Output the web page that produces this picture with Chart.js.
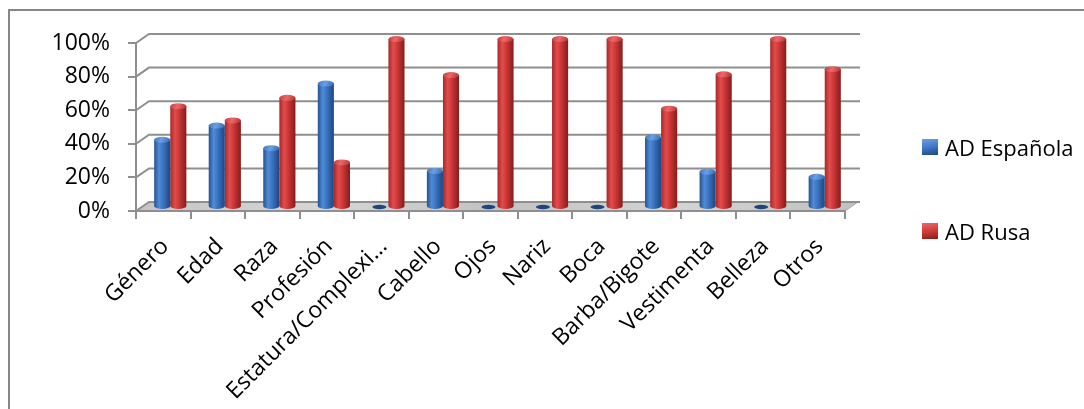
<!DOCTYPE html>
<html>
<head>
<meta charset="utf-8">
<script src="https://cdn.jsdelivr.net/npm/chart.js@4.4.1/dist/chart.umd.min.js"></script>
<style>
  html, body { margin: 0; padding: 0; background: #fff; overflow: hidden; }
  #wrap { position: relative; width: 1084px; height: 409px; }
  #frame { position: absolute; left: 8px; top: 9px; width: 1100px; height: 430px;
           border: 2px solid #878787; box-sizing: border-box; pointer-events: none; }
  canvas { position: absolute; left: 0; top: 0; }
  #legend { position: absolute; left: 922px; top: 0; font-family: 'Open Sans', sans-serif;
            font-size: 22px; color: #000; }
  #legend .item { position: absolute; left: 0; height: 30px; display: flex; align-items: center; white-space: nowrap; }
  #legend .sw { width: 16px; height: 16px; margin-right: 7px; flex: none; }
</style>
</head>
<body>
<div id="wrap">
  <div id="frame"></div>
  <canvas id="c" width="1084" height="409"></canvas>
  <div id="legend"></div>
</div>
<script>
// Categories and the share (%) of each analysed description
const categories = ['Género', 'Edad', 'Raza', 'Profesión', 'Estatura/Complexi…', 'Cabello', 'Ojos',
                    'Nariz', 'Boca', 'Barba/Bigote', 'Vestimenta', 'Belleza', 'Otros'];
const adEspanola = [40, 48.5, 35, 73.5, 0, 21.5, 0, 0, 0, 41.5, 21, 0, 18];
const adRusa     = [60, 51.5, 65, 26.5, 100, 78.5, 100, 100, 100, 58.5, 79, 100, 82];
const seriesNames = ['AD Española', 'AD Rusa'];
const yTicks = [0, 20, 40, 60, 80, 100];

// Styling
const X_FONT = { family: "'Open Sans', sans-serif", size: 23 };
const Y_FONT = { family: "'Open Sans', sans-serif", size: 23 };
const GRID = '#8f8f8f';
const CAT_PCT = 0.59;
const DEPTH = { x: 13, y: -9 };      // back wall offset
const BAR_SHIFT = { x: 7, y: -4 };   // bars sit half way into the depth
const SHADES = [
  ['#24528f', '#4f8bd8', '#3b74c2', '#1d467f'],   // blue cylinder
  ['#a82828', '#e24c4c', '#cc3737', '#861c1c']    // red cylinder
];
const CAPS = [['#3d73bd', '#6aa0e4', '#3566ab'], ['#c23a3a', '#ec6868', '#b33030']];

function cylinderGradient(ctx, ds, x, w) {
  const g = ctx.createLinearGradient(x - w / 2, 0, x + w / 2, 0);
  const s = SHADES[ds];
  g.addColorStop(0, s[0]);
  g.addColorStop(0.3, s[1]);
  g.addColorStop(0.55, s[2]);
  g.addColorStop(1, s[3]);
  return g;
}

function cylinderFill(context) {
  const chart = context.chart;
  const ds = context.datasetIndex;
  const xs = chart.scales && chart.scales.x;
  if (!xs || context.type !== 'data') return SHADES[ds][2];
  const cat = xs.width / categories.length;
  const group = cat * CAT_PCT;
  const bw = group / 2;
  const cx = xs.getPixelForValue(context.dataIndex) - group / 2 + bw * ds + bw / 2;
  if (!isFinite(cx) || !isFinite(bw) || bw <= 0) return SHADES[ds][2];
  return cylinderGradient(chart.ctx, ds, cx, bw);
}

// Floor, back wall grid and cylinder caps
const depthPlugin = {
  id: 'depth',
  beforeDraw(chart) {
    const { ctx, chartArea: a, scales: { y } } = chart;
    const y0 = y.getPixelForValue(0);
    ctx.save();
    // floor
    const fg = ctx.createLinearGradient(a.left, 0, a.right + DEPTH.x, 0);
    fg.addColorStop(0, '#c4c4c4');
    fg.addColorStop(0.25, '#d6d6d6');
    fg.addColorStop(0.5, '#c2c2c2');
    fg.addColorStop(0.75, '#d4d4d4');
    fg.addColorStop(1, '#c0c0c0');
    ctx.beginPath();
    ctx.moveTo(a.left, y0);
    ctx.lineTo(a.right, y0);
    ctx.lineTo(a.right + DEPTH.x, y0 + DEPTH.y);
    ctx.lineTo(a.left + DEPTH.x, y0 + DEPTH.y);
    ctx.closePath();
    ctx.fillStyle = fg;
    ctx.fill();
    ctx.strokeStyle = '#a8a8a8';
    ctx.lineWidth = 1;
    ctx.stroke();
    // back wall grid lines
    ctx.strokeStyle = GRID;
    ctx.lineWidth = 2;
    y.ticks.forEach(t => {
      const py = y.getPixelForValue(t.value);
      ctx.beginPath();
      ctx.moveTo(a.left, py);
      ctx.lineTo(a.left + DEPTH.x, py + DEPTH.y);
      ctx.lineTo(a.right + DEPTH.x + 2, py + DEPTH.y);
      ctx.stroke();
    });
    ctx.restore();
  },
  beforeDatasetsDraw(chart) {
    chart.ctx.save();
    chart.ctx.translate(BAR_SHIFT.x, BAR_SHIFT.y);
  },
  afterDatasetsDraw(chart) {
    const ctx = chart.ctx;
    chart.data.datasets.forEach((ds, di) => {
      const meta = chart.getDatasetMeta(di);
      meta.data.forEach((bar) => {
        const { x, y, base, width } = bar.getProps(['x', 'y', 'base', 'width'], true);
        if (![x, y, base, width].every(isFinite)) return;
        const rx = width / 2;
        const s = SHADES[di];
        if (Math.abs(base - y) < 0.5) {
          // empty value: a flat disc on the floor
          ctx.beginPath();
          ctx.ellipse(x - 1, base, rx - 1, 2.2, 0, 0, Math.PI * 2);
          ctx.fillStyle = s[3];
          ctx.fill();
          return;
        }
        // bottom rim
        ctx.beginPath();
        ctx.ellipse(x, base, rx, 3, 0, 0, Math.PI);
        ctx.fillStyle = cylinderGradient(ctx, di, x, width);
        ctx.fill();
        // top of the cylinder
        const c = CAPS[di];
        const cg = ctx.createLinearGradient(x - rx, y - 3, x + rx, y + 3);
        cg.addColorStop(0, c[0]); cg.addColorStop(0.45, c[1]); cg.addColorStop(1, c[2]);
        ctx.beginPath();
        ctx.ellipse(x, y, rx, 3, 0, 0, Math.PI * 2);
        ctx.fillStyle = cg;
        ctx.fill();
      });
    });
    ctx.restore();
  }
};

// Legend built from the datasets
const htmlLegend = {
  id: 'htmlLegend',
  afterUpdate(chart) {
    const box = document.getElementById('legend');
    box.innerHTML = '';
    const tops = [132, 216];
    chart.data.datasets.forEach((ds, i) => {
      const item = document.createElement('div');
      item.className = 'item';
      item.style.top = tops[i] + 'px';
      const sw = document.createElement('span');
      sw.className = 'sw';
      sw.style.background = `linear-gradient(170deg, ${CAPS[i][1]}, ${SHADES[i][2]} 55%, ${SHADES[i][3]})`;
      const tx = document.createElement('span');
      tx.textContent = ds.label;
      item.appendChild(sw);
      item.appendChild(tx);
      box.appendChild(item);
    });
  }
};

new Chart(document.getElementById('c'), {
  type: 'bar',
  data: {
    labels: categories,
    datasets: [
      { label: seriesNames[0], data: adEspanola, backgroundColor: cylinderFill, borderWidth: 0, clip: false },
      { label: seriesNames[1], data: adRusa, backgroundColor: cylinderFill, borderWidth: 0, clip: false }
    ]
  },
  options: {
    responsive: false,
    animation: false,
    events: [],
    categoryPercentage: CAT_PCT,
    barPercentage: 1,
    layout: { padding: { left: 0, top: 43, right: 239, bottom: 0 } },
    plugins: { legend: { display: false }, tooltip: { enabled: false } },
    scales: {
      x: {
        grid: { drawOnChartArea: false, drawTicks: true, tickLength: 8, color: GRID, lineWidth: 2, offset: true },
        border: { display: true, color: GRID, width: 2 },
        ticks: { autoSkip: false, minRotation: 45, maxRotation: 45, font: X_FONT, color: '#000', padding: 14, labelOffset: 2 },
        afterFit(s) { s.height = 198; }
      },
      y: {
        min: 0,
        max: 100,
        afterBuildTicks(s) { s.ticks = yTicks.map(v => ({ value: v })); },
        ticks: { callback: v => v + '%', font: Y_FONT, color: '#000', padding: 18 },
        grid: { drawOnChartArea: false, drawTicks: true, tickLength: 8, color: GRID, lineWidth: 2 },
        border: { display: true, color: GRID, width: 2 },
        afterFit(s) { s.width = 136; }
      }
    }
  },
  plugins: [depthPlugin, htmlLegend]
});
</script>
</body>
</html>
